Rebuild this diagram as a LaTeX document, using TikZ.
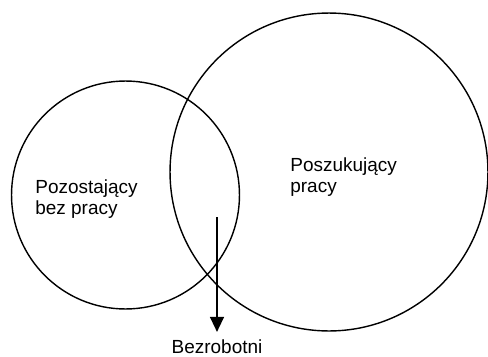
\documentclass[tikz,border=0pt]{standalone}
\usepackage{fontspec}
\setmainfont{Liberation Sans}
\usetikzlibrary{arrows.meta}
\usetikzlibrary{positioning}
\tikzset{
  every picture/.style={font={\fontsize{10.8}{11.9}\selectfont}, >={Triangle[width=0.28cm, length=0.3cm]}}}

\begin{document}
\begin{tikzpicture}[x=0.02cm, y=-0.02cm,
    set/.style={draw, circle, line width=0.8pt, inner sep=0pt},
    label/.style={align=left, inner sep=0pt, anchor=north west}]

    \useasboundingbox (0,0) rectangle (488,356);

    \begin{scope}
      \node[set, minimum size=4.56cm] (left) at (125.5,195) {};
      \node[set, minimum size=6.36cm] (right) at (329,172) {};
    \end{scope}

    \node[label] (leftlabel) at (35,179) {Pozostający\\bez pracy};
    \node[label] (rightlabel) at (290,157) {Poszukujący\\pracy};

    \coordinate (start) at (217,217);
    \node[anchor=base, inner xsep=0pt, inner ysep=0.14cm] (unemployed) at (217,353) {Bezrobotni};

    \draw[->, line width=0.8pt] (start) -- (unemployed.north);
  \end{tikzpicture}
\end{document}
